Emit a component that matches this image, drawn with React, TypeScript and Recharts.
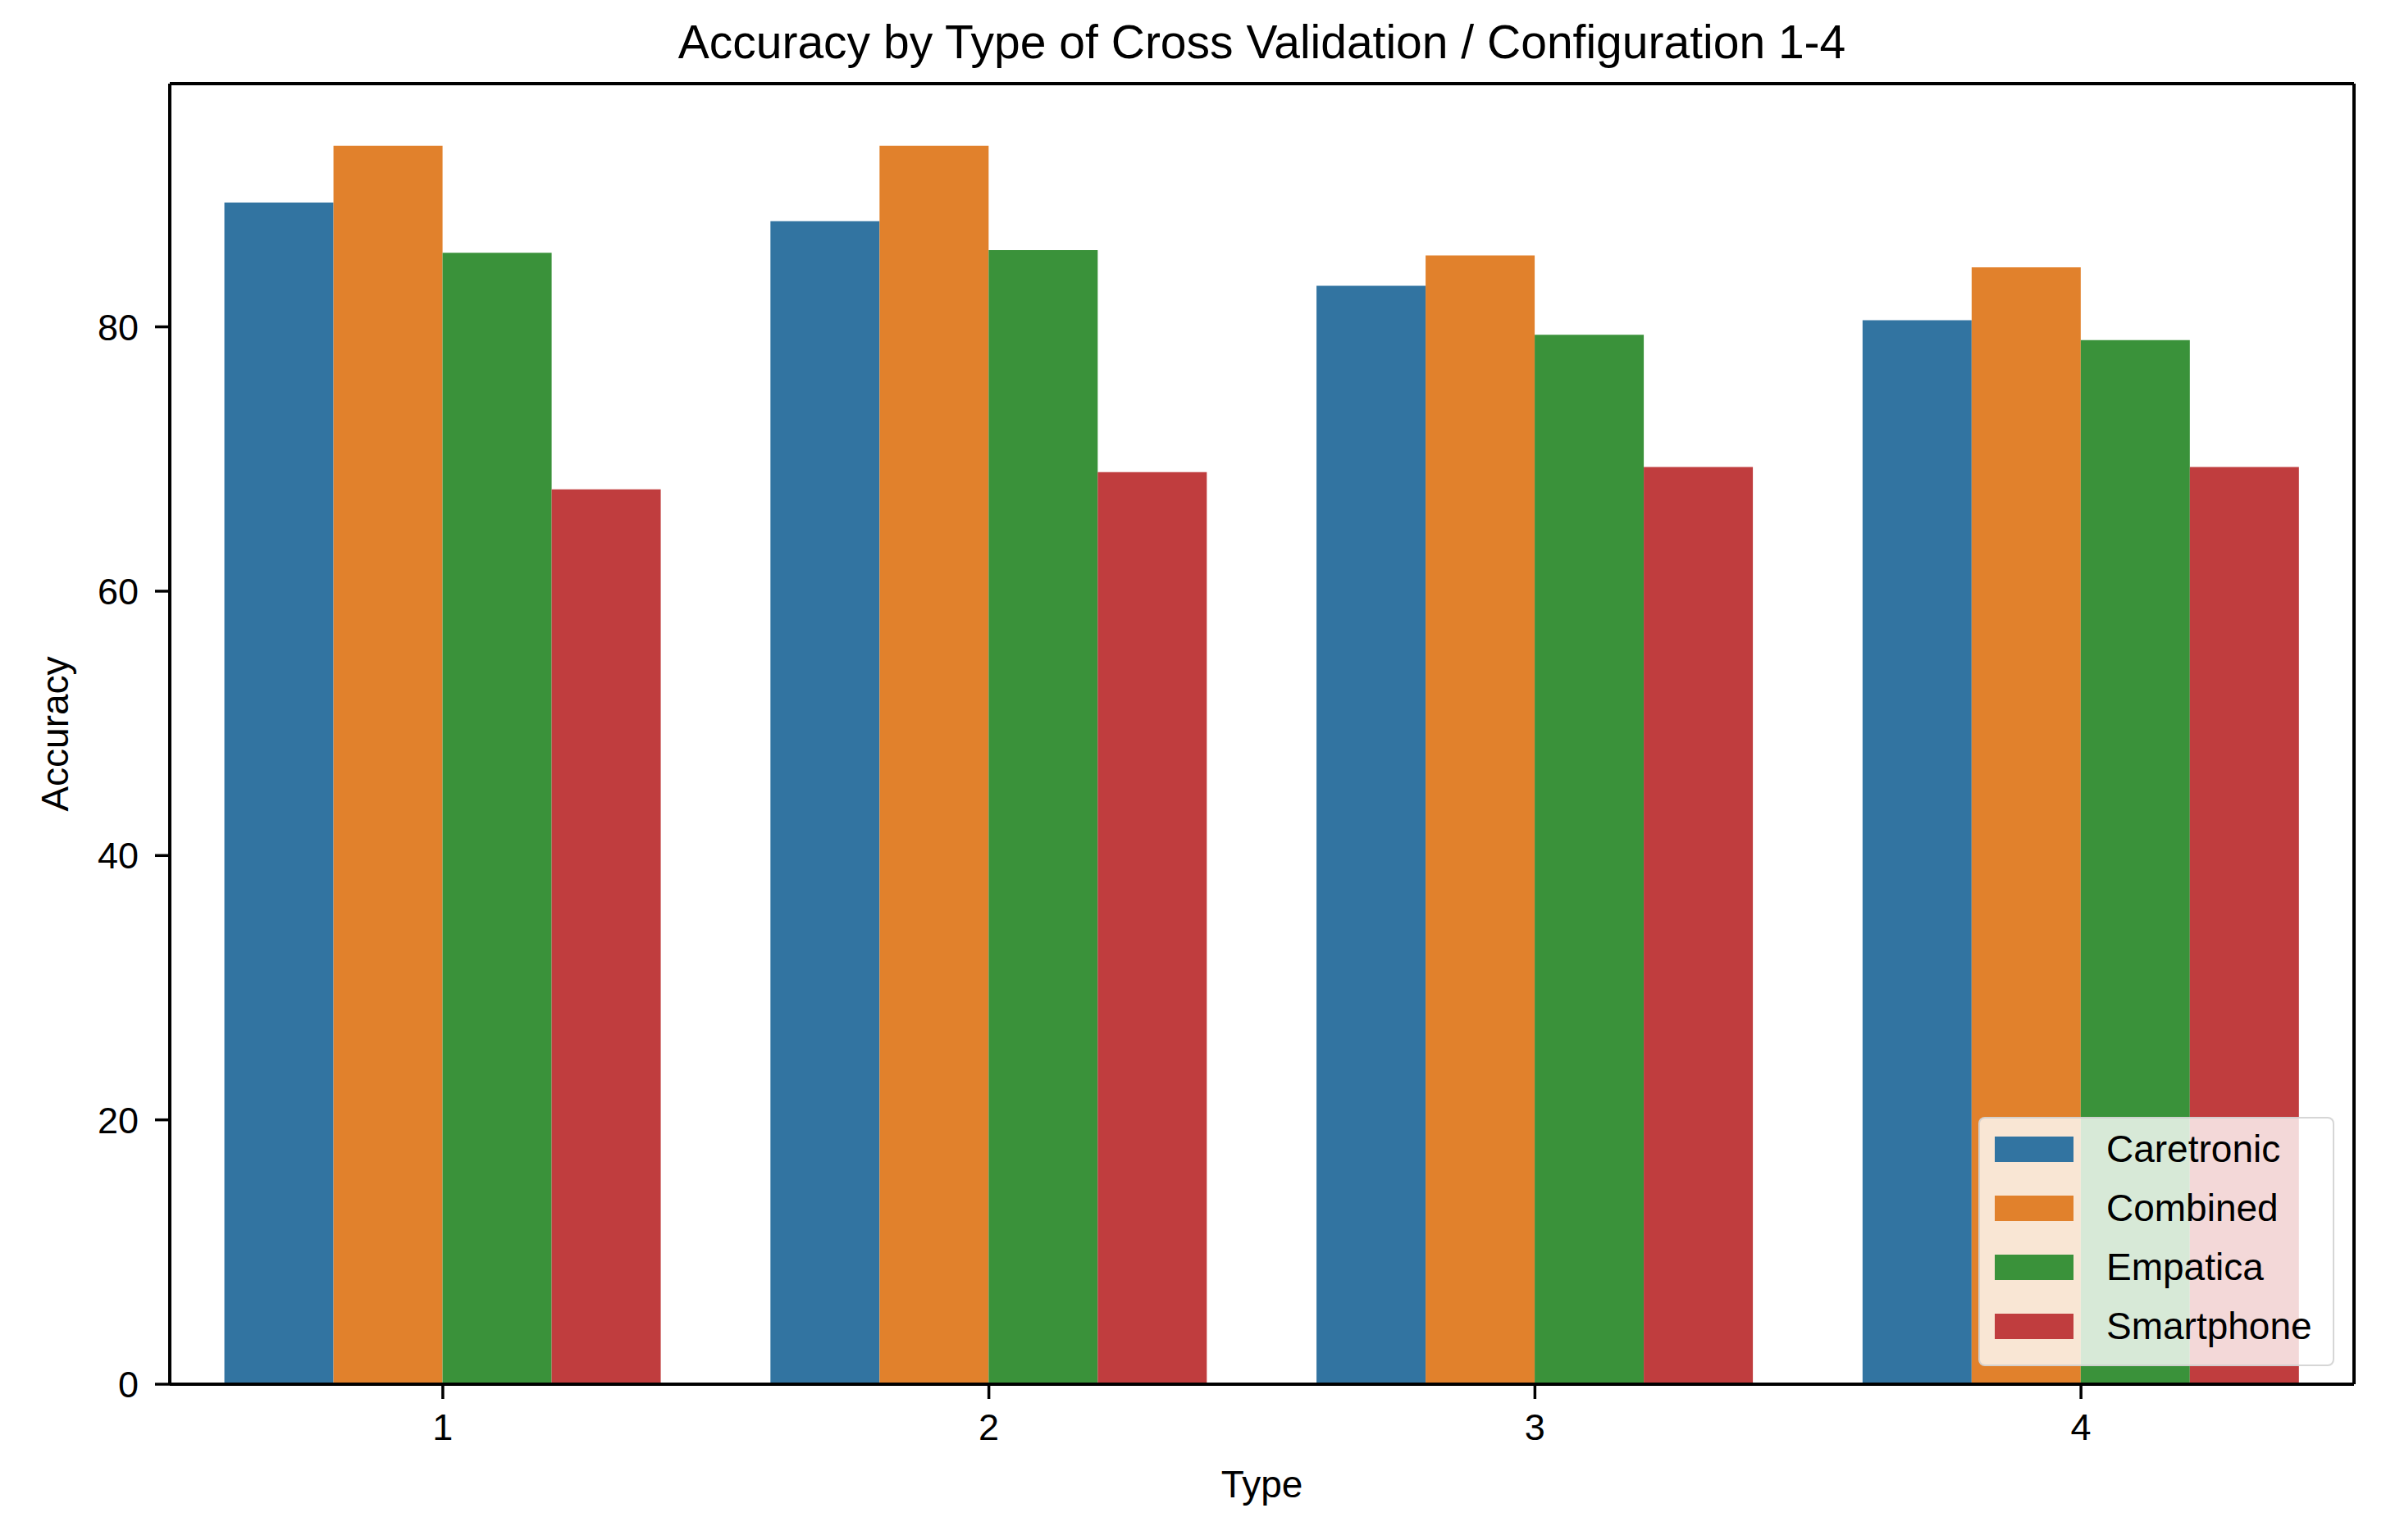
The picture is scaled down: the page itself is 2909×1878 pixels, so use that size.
import { BarChart, Bar, XAxis, YAxis, Legend, Label, CartesianGrid } from "recharts"

// values
const types = ["1", "2", "3", "4"]
const caretronic = [89.4, 88.0, 83.1, 80.5]
const combined = [93.7, 93.7, 85.4, 84.5]
const empatica = [85.6, 85.8, 79.4, 79.0]
const smartphone = [67.7, 69.0, 69.4, 69.4]
const yTicks = [0, 20, 40, 60, 80]
const yMax = 98.4

const series = [
  { name: "Caretronic", values: caretronic, color: "#3274a1" },
  { name: "Combined", values: combined, color: "#e1812c" },
  { name: "Empatica", values: empatica, color: "#3a923a" },
  { name: "Smartphone", values: smartphone, color: "#c03d3e" },
]

const data = types.map((type, i) => {
  const row: Record<string, string | number> = { type }
  series.forEach((s) => {
    row[s.name] = s.values[i]
  })
  return row
})

const FONT = '"Liberation Sans", Arial, Helvetica, sans-serif'
const spine = { stroke: "#000", strokeWidth: 4 }

// the plot frame (top + right spines) comes from the grid, at the plot edges
const frameRows = ({ offset }: any) => [offset.top, offset.top + offset.height]
const frameCols = ({ offset }: any) => [offset.left, offset.left + offset.width]

const renderLegend = (props: any) => (
  <div
    style={{
      boxSizing: "border-box",
      width: 434,
      height: 304,
      background: "rgba(255,255,255,0.8)",
      border: "2px solid rgba(204,204,204,0.8)",
      borderRadius: 8,
      padding: "1px 0 0 18px",
    }}
  >
    {(props.payload || []).map((entry: any) => (
      <div key={entry.value} style={{ display: "flex", alignItems: "center", height: 72 }}>
        <span style={{ display: "inline-block", width: 96, height: 31, background: entry.color, marginRight: 40 }} />
        <span style={{ fontSize: 46, lineHeight: 1, color: "#000" }}>{entry.value}</span>
      </div>
    ))}
  </div>
)

export default function App() {
  return (
    <div
      style={{
        position: "absolute",
        left: 0,
        top: 0,
        width: 2909,
        height: 1878,
        background: "#fff",
        fontFamily: FONT,
      }}
    >
      <div
        style={{
          position: "absolute",
          left: 207,
          width: 2663,
          top: 23,
          textAlign: "center",
          fontSize: 57,
          lineHeight: "57px",
          color: "#000",
          whiteSpace: "nowrap",
        }}
      >
        Accuracy by Type of Cross Validation / Configuration 1-4
      </div>
      <BarChart
        width={2909}
        height={1878}
        data={data}
        margin={{ top: 102, right: 39, bottom: 0, left: 0 }}
        barCategoryGap="10%"
        barGap={0}
      >
        <CartesianGrid
          stroke="#000"
          strokeWidth={4}
          horizontalCoordinatesGenerator={frameRows}
          verticalCoordinatesGenerator={frameCols}
        />
        <XAxis
          dataKey="type"
          height={190}
          axisLine={spine}
          tickSize={18}
          tickMargin={18}
          tickLine={{ stroke: "#000", strokeWidth: 3.5 }}
          tick={{ fill: "#000", fontSize: 45 }}
        >
          <Label value="Type" position="center" dy={27} fontSize={46} fill="#000" />
        </XAxis>
        <YAxis
          type="number"
          domain={[0, yMax]}
          ticks={yTicks}
          width={207}
          axisLine={spine}
          tickSize={18}
          tickMargin={20}
          tickLine={{ stroke: "#000", strokeWidth: 3.5 }}
          tick={{ fill: "#000", fontSize: 45 }}
        >
          <Label value="Accuracy" angle={-90} position="center" dx={-37} fontSize={46} fill="#000" />
        </YAxis>
        {series.map((s) => (
          <Bar key={s.name} dataKey={s.name} name={s.name} fill={s.color} isAnimationActive={false} />
        ))}
        <Legend
          layout="vertical"
          align="center"
          verticalAlign="middle"
          content={renderLegend}
          wrapperStyle={{ left: 2412, top: 1362, width: 434, height: 304 }}
        />
      </BarChart>
    </div>
  )
}
